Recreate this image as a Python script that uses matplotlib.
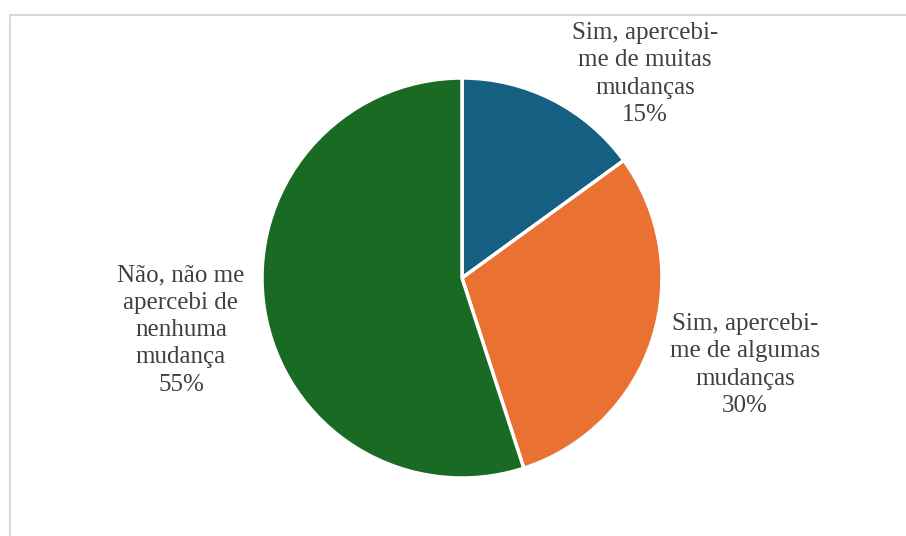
import matplotlib.pyplot as plt
from matplotlib.patches import Rectangle

labels = ['Sim, apercebi-\nme de muitas\nmudanças', 'Sim, apercebi-\nme de algumas\nmudanças',
          'Não, não me\napercebi de\nnenhuma\nmudança']
values = [15, 30, 55]
colors = ['#156082', '#E97132', '#196B24']
label_pos = [(0.915, 1.02), (1.415, -0.435), (-1.405, -0.26)]

plt.rcParams['font.family'] = ['Liberation Serif', 'DejaVu Serif']

W, H = 906, 536
fig = plt.figure(figsize=(W / 100, H / 100), dpi=100)
ax = fig.add_axes([0, 0, 1, 1])

# center and radius in pixels
cx, cy, r = 462, 278, 200

ax.pie(values, colors=colors, startangle=90, counterclock=False, radius=1,
       wedgeprops=dict(edgecolor='white', linewidth=2.5), frame=True)
ax.axis('off')
ax.set_xlim(-cx / r, (W - cx) / r)
ax.set_ylim(-(H - cy) / r, cy / r)

for lab, v, (x, y) in zip(labels, values, label_pos):
    ax.text(x, y, f'{lab}\n{v}%', ha='center', va='center', fontsize=18,
            color='#404040', linespacing=1.31)

# chart border
fig.patches.append(Rectangle((9.5 / W, -0.1), 1.2, (H - 14.5) / H + 0.1,
                             transform=fig.transFigure, fill=False,
                             edgecolor='#d9d9d9', linewidth=1.5))

fig.savefig('out.png', dpi=100)
